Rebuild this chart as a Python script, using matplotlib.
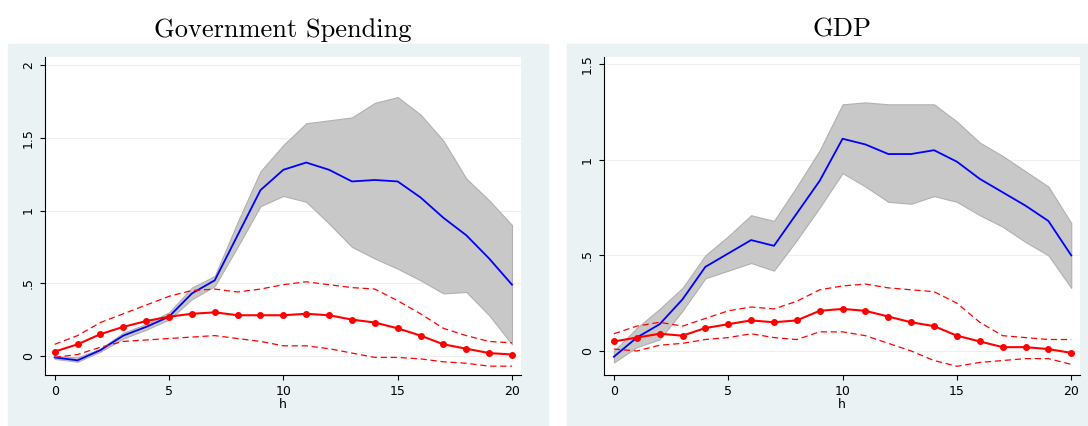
import numpy as np
import matplotlib
matplotlib.use("Agg")
import matplotlib.pyplot as plt
from matplotlib.patches import Rectangle

h = np.arange(21)

# Government Spending panel
gs_irf = [-0.01, -0.03, 0.04, 0.14, 0.20, 0.27, 0.43, 0.52, 0.83, 1.14, 1.28, 1.33, 1.28, 1.20, 1.21, 1.20, 1.09, 0.95, 0.83, 0.67, 0.49]
gs_hi = [0.00, -0.01, 0.05, 0.16, 0.22, 0.30, 0.47, 0.55, 0.92, 1.27, 1.45, 1.60, 1.62, 1.64, 1.74, 1.78, 1.66, 1.48, 1.22, 1.07, 0.90]
gs_lo = [-0.02, -0.04, 0.03, 0.12, 0.18, 0.25, 0.39, 0.48, 0.75, 1.03, 1.10, 1.06, 0.91, 0.75, 0.67, 0.60, 0.52, 0.43, 0.44, 0.28, 0.08]
gs_red = [0.03, 0.08, 0.15, 0.20, 0.24, 0.27, 0.29, 0.30, 0.28, 0.28, 0.28, 0.29, 0.28, 0.25, 0.23, 0.19, 0.14, 0.08, 0.05, 0.02, 0.01]
gs_red_hi = [0.08, 0.14, 0.23, 0.29, 0.35, 0.41, 0.45, 0.46, 0.44, 0.46, 0.49, 0.51, 0.49, 0.47, 0.46, 0.38, 0.29, 0.19, 0.14, 0.10, 0.09]
gs_red_lo = [-0.01, 0.01, 0.06, 0.10, 0.11, 0.12, 0.13, 0.14, 0.12, 0.10, 0.07, 0.07, 0.05, 0.02, -0.01, -0.01, -0.02, -0.04, -0.05, -0.07, -0.07]

# GDP panel
gdp_irf = [-0.03, 0.07, 0.14, 0.27, 0.44, 0.51, 0.58, 0.55, 0.72, 0.89, 1.11, 1.08, 1.03, 1.03, 1.05, 0.99, 0.90, 0.83, 0.76, 0.68, 0.50]
gdp_hi = [0.00, 0.12, 0.22, 0.33, 0.50, 0.60, 0.71, 0.68, 0.86, 1.05, 1.29, 1.30, 1.29, 1.29, 1.29, 1.20, 1.09, 1.02, 0.94, 0.86, 0.67]
gdp_lo = [-0.06, 0.02, 0.06, 0.21, 0.38, 0.42, 0.46, 0.42, 0.58, 0.75, 0.93, 0.86, 0.78, 0.77, 0.81, 0.78, 0.71, 0.65, 0.57, 0.50, 0.33]
gdp_red = [0.05, 0.07, 0.09, 0.08, 0.12, 0.14, 0.16, 0.15, 0.16, 0.21, 0.22, 0.21, 0.18, 0.15, 0.13, 0.08, 0.05, 0.02, 0.02, 0.01, -0.01]
gdp_red_hi = [0.09, 0.13, 0.15, 0.13, 0.17, 0.21, 0.23, 0.22, 0.26, 0.32, 0.34, 0.35, 0.33, 0.32, 0.31, 0.25, 0.15, 0.08, 0.07, 0.06, 0.06]
gdp_red_lo = [0.01, 0.00, 0.03, 0.04, 0.06, 0.07, 0.09, 0.07, 0.06, 0.10, 0.10, 0.08, 0.04, 0.00, -0.05, -0.08, -0.06, -0.05, -0.04, -0.04, -0.07]

fig = plt.figure(figsize=(10.88, 4.26), dpi=100)
bg = "#eaf2f3"

panels = [
    ("Government Spending", 0.041, (-0.13, 2.055), [0, 0.5, 1, 1.5, 2], ["0", ".5", "1", "1.5", "2"],
     gs_irf, gs_hi, gs_lo, gs_red, gs_red_hi, gs_red_lo),
    ("GDP", 0.555, (-0.125, 1.537), [0, 0.5, 1, 1.5], ["0", ".5", "1", "1.5"],
     gdp_irf, gdp_hi, gdp_lo, gdp_red, gdp_red_hi, gdp_red_lo),
]

for title, left, ylim, yt, ytl, irf, hi, lo, red, rhi, rlo in panels:
    # light background box behind each graph
    fig.patches.append(Rectangle((left - 0.034, 0), 0.497, 0.897, transform=fig.transFigure,
                                 color=bg, zorder=-1))
    fig.text(left + 0.219, 0.93, title, ha="center", va="center", fontsize=19, family="cmr10")
    ax = fig.add_axes([left, 0.12, 0.438, 0.746])
    ax.fill_between(h, lo, hi, color="#c8c8c8", lw=0.8, edgecolor="#b0b0b0")
    ax.plot(h, irf, color="blue", lw=1.3)
    ax.plot(h, red, color="red", lw=1.5, marker="o", ms=4)
    ax.plot(h, rhi, color="red", lw=0.9, ls="--", dashes=(5, 3))
    ax.plot(h, rlo, color="red", lw=0.9, ls="--", dashes=(5, 3))
    ax.set_xlim(-0.44, 20.4)
    ax.set_ylim(*ylim)
    ax.set_xticks([0, 5, 10, 15, 20])
    ax.set_yticks(yt)
    ax.set_yticklabels(ytl, rotation=90, va="center")
    ax.set_xlabel("h", fontsize=9, labelpad=0)
    ax.tick_params(labelsize=9)
    ax.grid(axis="y", color="#eeeeee", lw=0.8)
    ax.set_axisbelow(True)
    for s in ["top", "right"]:
        ax.spines[s].set_visible(False)

fig.savefig("out.png", dpi=100)
